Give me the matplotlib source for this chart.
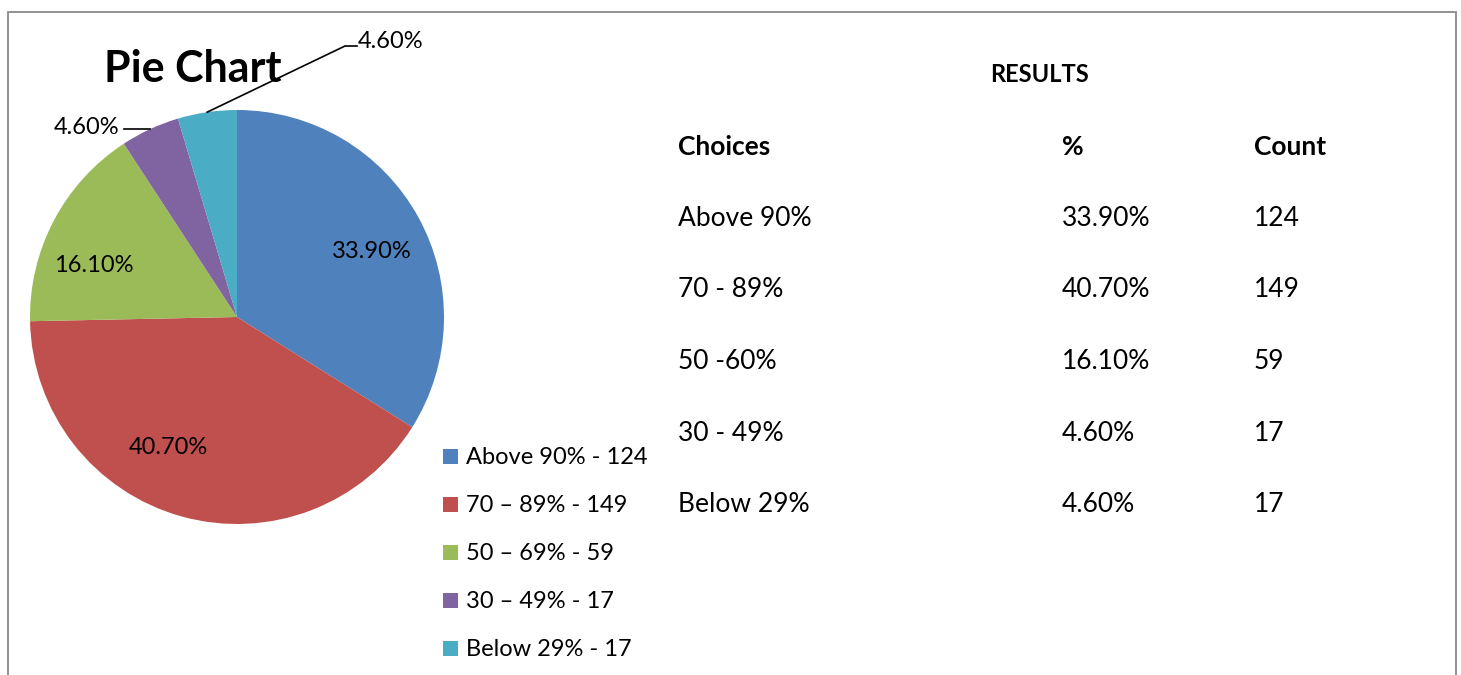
import numpy as np
import matplotlib
matplotlib.use("Agg")
import matplotlib.pyplot as plt

plt.rcParams["font.family"] = ["Lato", "DejaVu Sans"]

# data
choices   = ["Above 90%", "70 - 89%", "50 -60%", "30 - 49%", "Below 29%"]
legend_ranges = ["Above 90%", "70 \u2013 89%", "50 \u2013 69%", "30 \u2013 49%", "Below 29%"]
percents  = [33.9, 40.7, 16.1, 4.6, 4.6]
counts    = [124, 149, 59, 17, 17]
colors    = ["#4F81BD", "#C0504D", "#9BBB59", "#8064A2", "#4BACC6"]

W, H = 1461, 675
fig = plt.figure(figsize=(W / 100, H / 100), dpi=100)
ax = fig.add_axes([0, 0, 1, 1])

def Y(y):
    return H - y

# pie
cx, cy, R = 237, Y(317), 207
wedges, _ = ax.pie(percents, colors=colors, startangle=90, counterclock=False,
                   center=(cx, cy), radius=R, frame=True,
                   wedgeprops=dict(linewidth=0))
ax.set_xlim(0, W)
ax.set_ylim(0, H)
ax.set_aspect("equal")
ax.axis("off")

# outer frame (bottom is cut off)
ax.plot([8, 8, 1456, 1456], [0, Y(12), Y(12), 0], color="#8a8a8a", lw=1.3,
        solid_joinstyle="miter")

FS = 17
lab = [f"{p:.2f}%" for p in percents]
ax.text(372, Y(252), lab[0], ha="center", va="center", fontsize=FS)
ax.text(168, Y(448), lab[1], ha="center", va="center", fontsize=FS)
ax.text(94, Y(265), lab[2], ha="center", va="center", fontsize=FS)

# leader lines for the two small slices
def edge_point(w):
    a = np.radians((w.theta1 + w.theta2) / 2)
    return cx + R * np.cos(a), cy + R * np.sin(a)

px, py = edge_point(wedges[3])
ax.plot([px, 124], [py, py], color="black", lw=1.2)
ax.text(119, py + 2, lab[3], ha="right", va="center", fontsize=FS)

tx, ty = edge_point(wedges[4])
ax.plot([tx, 345, 357], [ty, Y(46), Y(46)], color="black", lw=1.2)
ax.text(358, Y(42), lab[4], ha="left", va="center", fontsize=FS)

# title
ax.text(193, Y(69), "Pie Chart", ha="center", va="center", fontsize=31,
        fontweight="bold")

# legend
for i, (rng, c) in enumerate(zip(legend_ranges, counts)):
    yy = Y(456 + i * 48)
    ax.add_patch(plt.Rectangle((443, yy - 7.5), 15, 15, color=colors[i], lw=0))
    ax.text(466, yy - 2, f"{rng} - {c}", ha="left", va="center", fontsize=FS)

# results table
TFS = 19
ax.text(1039, Y(75), "RESULTS", ha="center", va="center", fontsize=17,
        fontweight="bold")
cols = [678, 1062, 1254]
for x, h in zip(cols, ["Choices", "%", "Count"]):
    ax.text(x, Y(147), h, ha="left", va="center", fontsize=TFS, fontweight="bold")
for i, (ch, p, c) in enumerate(zip(choices, percents, counts)):
    yy = Y(218 + i * 71.75)
    ax.text(cols[0], yy, ch, ha="left", va="center", fontsize=TFS)
    ax.text(cols[1], yy, f"{p:.2f}%", ha="left", va="center", fontsize=TFS)
    ax.text(cols[2], yy, str(c), ha="left", va="center", fontsize=TFS)

fig.savefig("out.png", dpi=100)
